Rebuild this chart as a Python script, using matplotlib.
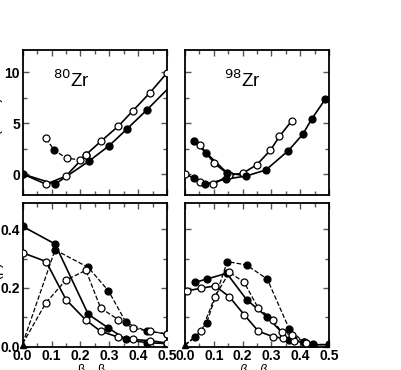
import matplotlib
matplotlib.use("Agg")
import matplotlib.pyplot as plt
from matplotlib.ticker import MultipleLocator

plt.rcParams['font.family'] = ['Liberation Sans', 'DejaVu Sans']

# ---- 80Zr energy curves (MeV) vs beta ----
zr80_filled_beta = [0.0, 0.112, 0.231, 0.300, 0.360, 0.430, 0.5]
zr80_filled_E = [0.0, -1.0, 1.3, 2.8, 4.4, 6.3, 8.3]
zr80_open_beta = [0.0, 0.081, 0.15, 0.219, 0.27, 0.331, 0.381, 0.441, 0.5]
zr80_open_E = [0.0, -1.0, -0.2, 1.9, 3.2, 4.7, 6.2, 8.0, 9.95]
zr80_dash_beta = [0.081, 0.109, 0.152, 0.2, 0.219]
zr80_dash_E = [3.5, 2.35, 1.55, 1.4, 1.9]
zr80_dash_filled = [False, True, False, False, False]

# ---- 98Zr energy curves ----
zr98_filled_beta = [0.031, 0.069, 0.142, 0.212, 0.281, 0.359, 0.409, 0.44, 0.487]
zr98_filled_E = [-0.35, -1.0, -0.5, -0.2, 0.4, 2.3, 3.9, 5.4, 7.35]
zr98_filled_up_beta = [0.031, 0.073, 0.145, 0.212]
zr98_filled_up_E = [3.2, 2.1, 0.15, -0.2]
zr98_open_beta = [0.0, 0.052, 0.098, 0.154, 0.2, 0.249, 0.297, 0.328, 0.37]
zr98_open_E = [0.05, -0.75, -1.0, -0.1, 0.07, 0.9, 2.35, 3.7, 5.2]
zr98_open_up_beta = [0.052, 0.102, 0.154]
zr98_open_up_E = [2.85, 1.05, -0.1]

# ---- 80Zr probabilities ----
p80_beta_f = [0.0, 0.112, 0.227, 0.297, 0.358, 0.43, 0.5]
p80_solid_f = [0.41, 0.35, 0.11, 0.063, 0.024, 0.013, 0.01]
p80_dash_f = [0.01, 0.33, 0.27, 0.19, 0.082, 0.052, 0.043]
p80_beta_o = [0.0, 0.081, 0.15, 0.219, 0.27, 0.331, 0.381, 0.44, 0.5]
p80_solid_o = [0.32, 0.29, 0.16, 0.09, 0.052, 0.032, 0.024, 0.02, 0.012]
p80_dash_o = [0.01, 0.15, 0.227, 0.26, 0.131, 0.092, 0.063, 0.052, 0.043]

# ---- 98Zr probabilities ----
p98_solid_f_beta = [0.035, 0.075, 0.145, 0.214, 0.286, 0.362, 0.413, 0.443, 0.5]
p98_solid_f = [0.219, 0.23, 0.25, 0.16, 0.10, 0.022, 0.015, 0.006, 0.006]
p98_dash_f_beta = [0.0, 0.035, 0.075, 0.147, 0.214, 0.286, 0.362, 0.413, 0.443, 0.5]
p98_dash_f = [0.005, 0.031, 0.08, 0.29, 0.278, 0.23, 0.06, 0.014, 0.007, 0.007]
p98_solid_o_beta = [0.006, 0.057, 0.104, 0.154, 0.205, 0.255, 0.305, 0.34, 0.38, 0.42]
p98_solid_o = [0.19, 0.199, 0.207, 0.17, 0.109, 0.052, 0.034, 0.028, 0.02, 0.012]
p98_dash_o_beta = [0.0, 0.057, 0.104, 0.154, 0.205, 0.255, 0.305, 0.336, 0.37, 0.42]
p98_dash_o = [0.005, 0.052, 0.17, 0.253, 0.22, 0.13, 0.092, 0.048, 0.04, 0.013]

MS = 5
LW = 1.2


def curve(ax, x, y, filled, ls='-', lw=LW, skip_first=False):
    ax.plot(x, y, color='black', ls=ls, lw=lw, zorder=2)
    xs, ys = (x[1:], y[1:]) if skip_first else (x, y)
    ax.plot(xs, ys, ls='none', marker='o', ms=MS, mec='black', mew=0.9,
            mfc='black' if filled else 'white', zorder=3)


def style(ax, ymajor, yminor, xlabels, ylabels):
    ax.set_xlim(0, 0.5)
    ax.xaxis.set_major_locator(MultipleLocator(0.1))
    ax.xaxis.set_minor_locator(MultipleLocator(0.05))
    ax.yaxis.set_major_locator(MultipleLocator(ymajor))
    ax.yaxis.set_minor_locator(MultipleLocator(yminor))
    ax.tick_params(which='both', direction='in', top=True, right=True,
                   color='#555555', labelsize=10, pad=2)
    ax.tick_params(which='major', length=4, width=1)
    ax.tick_params(which='minor', length=3, width=1)
    for lab in ax.get_xticklabels() + ax.get_yticklabels():
        lab.set_fontweight('bold')
    if not xlabels:
        ax.tick_params(labelbottom=False)
    if not ylabels:
        ax.tick_params(labelleft=False)
    for s in ax.spines.values():
        s.set_linewidth(1.3)


fig = plt.figure(figsize=(4.01, 3.70), dpi=100)
ax_tl = fig.add_axes([0.0566, 0.473, 0.360, 0.392])
ax_tr = fig.add_axes([0.4613, 0.473, 0.359, 0.392])
ax_bl = fig.add_axes([0.0566, 0.0635, 0.360, 0.388])
ax_br = fig.add_axes([0.4613, 0.0635, 0.359, 0.388])

# top-left: 80Zr
curve(ax_tl, zr80_open_beta, zr80_open_E, False, skip_first=True)
ax_tl.plot(zr80_filled_beta, zr80_filled_E, color='black', lw=LW, zorder=2)
ax_tl.plot(zr80_filled_beta[:-1], zr80_filled_E[:-1], ls='none', marker='o', ms=MS,
           mec='black', mfc='black', zorder=3)
ax_tl.plot(zr80_dash_beta, zr80_dash_E, color='black', ls='--', lw=0.9, zorder=2)
for b, e, f in zip(zr80_dash_beta, zr80_dash_E, zr80_dash_filled):
    ax_tl.plot(b, e, marker='o', ms=MS, mec='black', mew=0.9,
               mfc='black' if f else 'white', zorder=3)
ax_tl.set_ylim(-2.06, 12.2)
ax_tl.text(0.105, 8.6, r'$^{\mathit{80}}$Zr', fontsize=13.5)
style(ax_tl, 5, 2.5, False, True)

# top-right: 98Zr
curve(ax_tr, zr98_open_beta, zr98_open_E, False)
curve(ax_tr, zr98_open_up_beta, zr98_open_up_E, False)
curve(ax_tr, zr98_filled_beta, zr98_filled_E, True)
ax_tr.plot(zr98_filled_up_beta, zr98_filled_up_E, color='black', lw=LW, zorder=2)
ax_tr.plot(zr98_filled_up_beta[:-1], zr98_filled_up_E[:-1], ls='none', marker='o',
           ms=MS, mec='black', mfc='black', zorder=3)
ax_tr.set_ylim(-2.06, 12.2)
ax_tr.text(0.135, 8.6, r'$^{\mathit{98}}$Zr', fontsize=13.5)
style(ax_tr, 5, 2.5, False, False)

# bottom-left: 80Zr probabilities
curve(ax_bl, p80_beta_f, p80_solid_f, True)
curve(ax_bl, p80_beta_o, p80_solid_o, False)
curve(ax_bl, p80_beta_f[1:], p80_dash_f[1:], True, ls='--', lw=0.9)
ax_bl.plot(p80_beta_f[:2], p80_dash_f[:2], color='black', ls='--', lw=0.9)
curve(ax_bl, p80_beta_o[1:], p80_dash_o[1:], False, ls='--', lw=0.9)
ax_bl.plot(p80_beta_o[:2], p80_dash_o[:2], color='black', ls='--', lw=0.9)
ax_bl.plot(0.0, 0.005, marker='^', ms=4, color='black', zorder=4, clip_on=False)
ax_bl.set_ylim(0, 0.49)
style(ax_bl, 0.2, 0.1, True, True)

# bottom-right: 98Zr probabilities
curve(ax_br, p98_solid_f_beta, p98_solid_f, True)
curve(ax_br, p98_solid_o_beta, p98_solid_o, False)
curve(ax_br, p98_dash_f_beta[1:], p98_dash_f[1:], True, ls='--', lw=0.9)
ax_br.plot(p98_dash_f_beta[:2], p98_dash_f[:2], color='black', ls='--', lw=0.9)
curve(ax_br, p98_dash_o_beta[1:], p98_dash_o[1:], False, ls='--', lw=0.9)
ax_br.plot(p98_dash_o_beta[:2], p98_dash_o[:2], color='black', ls='--', lw=0.9)
ax_br.plot(0.0, 0.005, marker='^', ms=4, color='black', zorder=4, clip_on=False)
ax_br.set_ylim(0, 0.49)
style(ax_br, 0.2, 0.1, True, False)

# axis titles (mostly cut off by the canvas edge, as in the source figure)
fig.text(-0.028, 0.67, 'E (MeV)', rotation=90, va='center', fontsize=10)
fig.text(-0.028, 0.26, 'P(β)', rotation=90, va='center', fontsize=10)
for xf, st in [(0.2, 'normal'), (0.25, 'normal'), (0.605, 'italic'), (0.655, 'italic')]:
    fig.text(xf, 0.017, 'β', fontsize=9, fontstyle=st, ha='center', va='top')

fig.savefig('out.png', dpi=100)
